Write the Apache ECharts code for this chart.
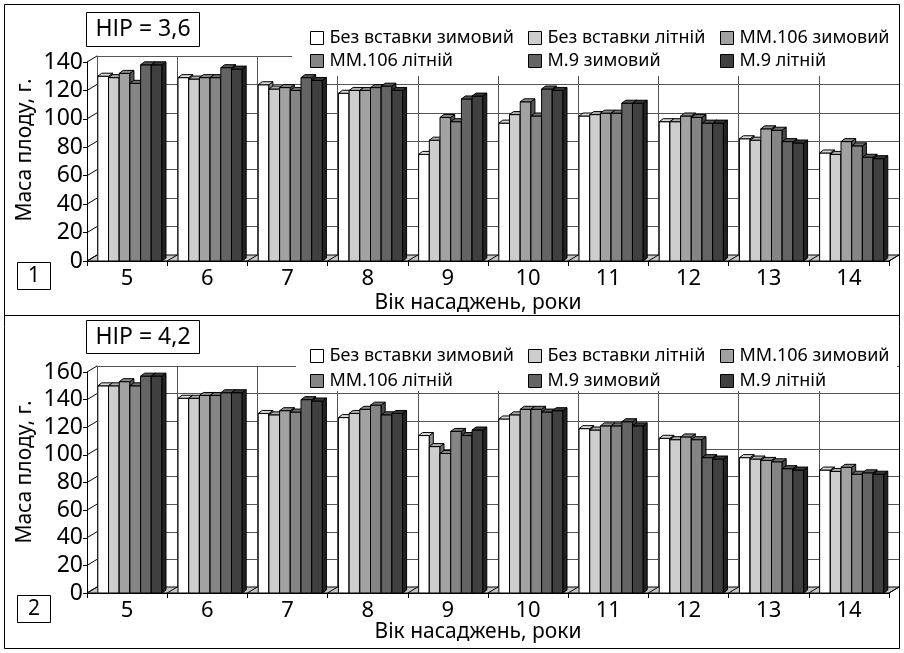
<!DOCTYPE html>
<html>
<head>
<meta charset="utf-8">
<script src="https://cdn.jsdelivr.net/npm/echarts@6/dist/echarts.min.js"></script>
<style>
html, body { margin: 0; padding: 0; background: #fff; }
#chart { width: 904px; height: 653px; }
</style>
</head>
<body>
<div id="chart"></div>
<script>
var ages = ['5', '6', '7', '8', '9', '10', '11', '12', '13', '14'];
var names = ['Без вставки зимовий', 'Без вставки літній', 'ММ.106 зимовий', 'ММ.106 літній', 'М.9 зимовий', 'М.9 літній'];

// рис. 1
var bezZ1 = [130, 129, 124, 118, 75, 97, 102, 98, 86, 76];
var bezL1 = [129, 128, 121, 120, 85, 103, 103, 98, 85, 75];
var mmZ1  = [132, 129, 122, 120, 101, 112, 104, 102, 93, 84];
var mmL1  = [125, 129, 120, 122, 98, 102, 104, 101, 92, 81];
var m9Z1  = [138, 136, 129, 123, 114, 121, 111, 97, 84, 73];
var m9L1  = [138, 135, 127, 120, 116, 120, 111, 97, 83, 72];
var yTicks1 = [0, 20, 40, 60, 80, 100, 120, 140];

// рис. 2
var bezZ2 = [150, 141, 130, 127, 114, 126, 119, 112, 98, 89];
var bezL2 = [150, 141, 129, 130, 106, 129, 118, 111, 97, 88];
var mmZ2  = [153, 143, 132, 133, 101, 133, 121, 113, 96, 91];
var mmL2  = [150, 143, 131, 136, 117, 133, 121, 111, 95, 86];
var m9Z2  = [157, 145, 140, 129, 114, 131, 124, 98, 90, 87];
var m9L2  = [157, 145, 139, 130, 118, 132, 121, 97, 89, 86];
var yTicks2 = [0, 20, 40, 60, 80, 100, 120, 140, 160];

var colors = ['#ffffff', '#cdcdcd', '#a2a2a2', '#858585', '#646464', '#404040'];
var FONT = 'Noto Sans';
var DX = 10, DY = -6;     // глибина стінки
var BDX = 4, BDY = -3;    // глибина стовпчика

function shade(hex, k) {
    var n = parseInt(hex.slice(1), 16);
    var r = Math.round(((n >> 16) & 255) * k), g = Math.round(((n >> 8) & 255) * k), b = Math.round((n & 255) * k);
    return 'rgb(' + r + ',' + g + ',' + b + ')';
}

function barRender(si) {
    return function (params, api) {
        var cat = api.value(0), val = api.value(1);
        var band = api.size([1, 0])[0];
        var c = api.coord([cat, 0]);
        var t = api.coord([cat, val]);
        var w = band * 0.8 / 6;
        var x0 = c[0] - band / 2 + band * 0.135 + si * w;
        var x1 = x0 + w, yb = c[1], yt = t[1];
        var col = colors[si];
        var st = { stroke: '#000', lineWidth: 1 };
        return {
            type: 'group',
            children: [
                { type: 'rect', shape: { x: x0, y: yt, width: w, height: yb - yt },
                  style: Object.assign({ fill: col }, st) },
                { type: 'polygon', shape: { points: [[x1, yt], [x1 + BDX, yt + BDY], [x1 + BDX, yb + BDY], [x1, yb]] },
                  style: Object.assign({ fill: shade(col, 0.55) }, st) },
                { type: 'polygon', shape: { points: [[x0, yt], [x0 + BDX, yt + BDY], [x1 + BDX, yt + BDY], [x1, yt]] },
                  style: Object.assign({ fill: shade(col, 0.85) }, st) }
            ]
        };
    };
}

function decorRender(params, api) {
    var band = api.size([1, 0])[0];
    var first = api.coord([0, 0]);
    var gx0 = first[0] - band / 2;
    var gx1 = gx0 + band * ages.length;
    var y0 = first[1];
    var v = api.value(0);
    var yv = api.coord([0, v])[1];
    var kids = [];
    if (params.dataIndex === 0) {
        kids.push({ type: 'polygon', shape: { points: [[gx0, y0], [gx1, y0], [gx1 + DX, y0 + DY], [gx0 + DX, y0 + DY]] },
                    style: { fill: '#c8c8c8', stroke: '#000', lineWidth: 1 } });
        for (var i = 1; i <= ages.length; i++) {
            var bx = gx0 + band * i;
            kids.push({ type: 'line', shape: { x1: bx, y1: y0, x2: bx + DX, y2: y0 + DY },
                        style: { stroke: '#000', lineWidth: 1 } });
        }
    }
    kids.push({ type: 'line', shape: { x1: gx0, y1: yv, x2: gx0 + DX, y2: yv + DY },
                style: { stroke: '#000', lineWidth: 1 } });
    return { type: 'group', children: kids };
}

function makeSeries(data, xi, yi) {
    var out = [{
        type: 'custom', name: 'decor', xAxisIndex: xi, yAxisIndex: yi, clip: false, z: 1,
        renderItem: decorRender, silent: true,
        data: (yi === 0 ? yTicks1 : yTicks2).map(function (v) { return [v]; }),
        encode: { y: 0 }
    }];
    data.forEach(function (arr, si) {
        out.push({
            type: 'custom', name: names[si], xAxisIndex: xi, yAxisIndex: yi, clip: false, z: 2 + si,
            itemStyle: { color: colors[si] },
            renderItem: barRender(si),
            data: arr.map(function (v, i) { return [i, v]; }),
            encode: { x: 0, y: 1 }
        });
    });
    return out;
}

function frontX(gi) {
    return {
        type: 'category', gridIndex: gi, data: ages, boundaryGap: true,
        axisLine: { lineStyle: { color: '#000', width: 1 } },
        axisTick: { show: true, length: 5, lineStyle: { color: '#000' } },
        axisLabel: { fontFamily: FONT, fontSize: 22, color: '#000', margin: 7 },
        splitLine: { show: false }
    };
}
function backX(gi) {
    return {
        type: 'category', gridIndex: gi, data: ages, boundaryGap: true,
        axisLine: { show: false }, axisTick: { show: false }, axisLabel: { show: false },
        splitLine: { show: true, lineStyle: { color: '#555', width: 1 } }
    };
}
function frontY(gi, ticks) {
    return {
        type: 'value', gridIndex: gi, min: ticks[0], max: ticks[ticks.length - 1], interval: ticks[1] - ticks[0],
        axisLine: { show: true, lineStyle: { color: '#000' } },
        axisTick: { show: true, length: 4, lineStyle: { color: '#000' } },
        axisLabel: { fontFamily: FONT, fontSize: 23, color: '#000', margin: 4 },
        splitLine: { show: false }
    };
}
function backY(gi, ticks) {
    return {
        type: 'value', gridIndex: gi, min: ticks[0], max: ticks[ticks.length - 1], interval: ticks[1] - ticks[0],
        axisLine: { show: true, lineStyle: { color: '#555' } },
        axisTick: { show: false }, axisLabel: { show: false },
        splitLine: { show: true, lineStyle: { color: '#555', width: 1 } }
    };
}

function legends(top, gap) {
    var cols = [310, 528, 720];
    var items = [];
    for (var c = 0; c < 3; c++) {
        items.push({
            orient: 'vertical', left: cols[c], top: top, padding: 0, itemGap: gap,
            itemWidth: 13, itemHeight: 13, icon: 'rect', selectedMode: false, z: 10,
            textStyle: { fontFamily: FONT, fontSize: 18, color: '#000', lineHeight: 16, padding: [0, 0, 0, 1] },
            data: [
                { name: names[c], itemStyle: { color: colors[c], borderColor: '#000', borderWidth: 1 } },
                { name: names[c + 3], itemStyle: { color: colors[c + 3], borderColor: '#000', borderWidth: 1 } }
            ]
        });
    }
    return items;
}

function box(x, y, w, h, label, fs) {
    return {
        type: 'group', z: 20,
        children: [
            { type: 'rect', shape: { x: x, y: y, width: w, height: h }, style: { fill: '#fff', stroke: '#000', lineWidth: 1 } },
            { type: 'text', x: x + w / 2, y: y + h / 2,
              style: { text: label, fontFamily: FONT, fontSize: fs, fill: '#000', align: 'center', verticalAlign: 'middle' } }
        ]
    };
}

function label(x, y, text, rot) {
    return {
        type: 'text', z: 20, x: x, y: y, rotation: rot || 0,
        style: { text: text, fontFamily: FONT, fontSize: 21, fill: '#000', align: 'center', verticalAlign: 'middle' }
    };
}

var chart = echarts.init(document.getElementById('chart'));
var option = {
    animation: false,
    backgroundColor: '#fff',
    grid: [
        { left: 87, top: 62, width: 802, height: 199 },
        { left: 97, top: 56, width: 802, height: 199 },
        { left: 87, top: 372, width: 802, height: 221 },
        { left: 97, top: 366, width: 802, height: 221 }
    ],
    xAxis: [frontX(0), backX(1), frontX(2), backX(3)],
    yAxis: [frontY(0, yTicks1), backY(1, yTicks1), frontY(2, yTicks2), backY(3, yTicks2)],
    legend: legends(29, 5).concat(legends(347, 7)),
    graphic: [
        { type: 'rect', z: 5, shape: { x: 292, y: 18, width: 608, height: 58 }, style: { fill: '#fff' } },
        { type: 'rect', z: 5, shape: { x: 296, y: 338, width: 601, height: 53 }, style: { fill: '#fff' } },
        { type: 'rect', z: 30, shape: { x: 4.5, y: 4.5, width: 895, height: 644 }, style: { fill: 'none', stroke: '#000', lineWidth: 1 } },
        { type: 'line', z: 30, shape: { x1: 4.5, y1: 315.5, x2: 899.5, y2: 315.5 }, style: { stroke: '#000', lineWidth: 1 } },
        box(86.5, 12.5, 113, 34, 'НІР = 3,6', 23),
        box(17.5, 262.5, 33, 27, '1', 21),
        box(86.5, 320.5, 113, 33, 'НІР = 4,2', 23),
        box(17.5, 595.5, 33, 27, '2', 21),
        label(25, 150, 'Маса плоду, г.', Math.PI / 2),
        label(478, 303, 'Вік насаджень, роки'),
        label(25, 472, 'Маса плоду, г.', Math.PI / 2),
        label(478, 632, 'Вік насаджень, роки')
    ],
    series: makeSeries([bezZ1, bezL1, mmZ1, mmL1, m9Z1, m9L1], 0, 0)
        .concat(makeSeries([bezZ2, bezL2, mmZ2, mmL2, m9Z2, m9L2], 2, 2))
};
chart.setOption(option);
</script>
</body>
</html>
